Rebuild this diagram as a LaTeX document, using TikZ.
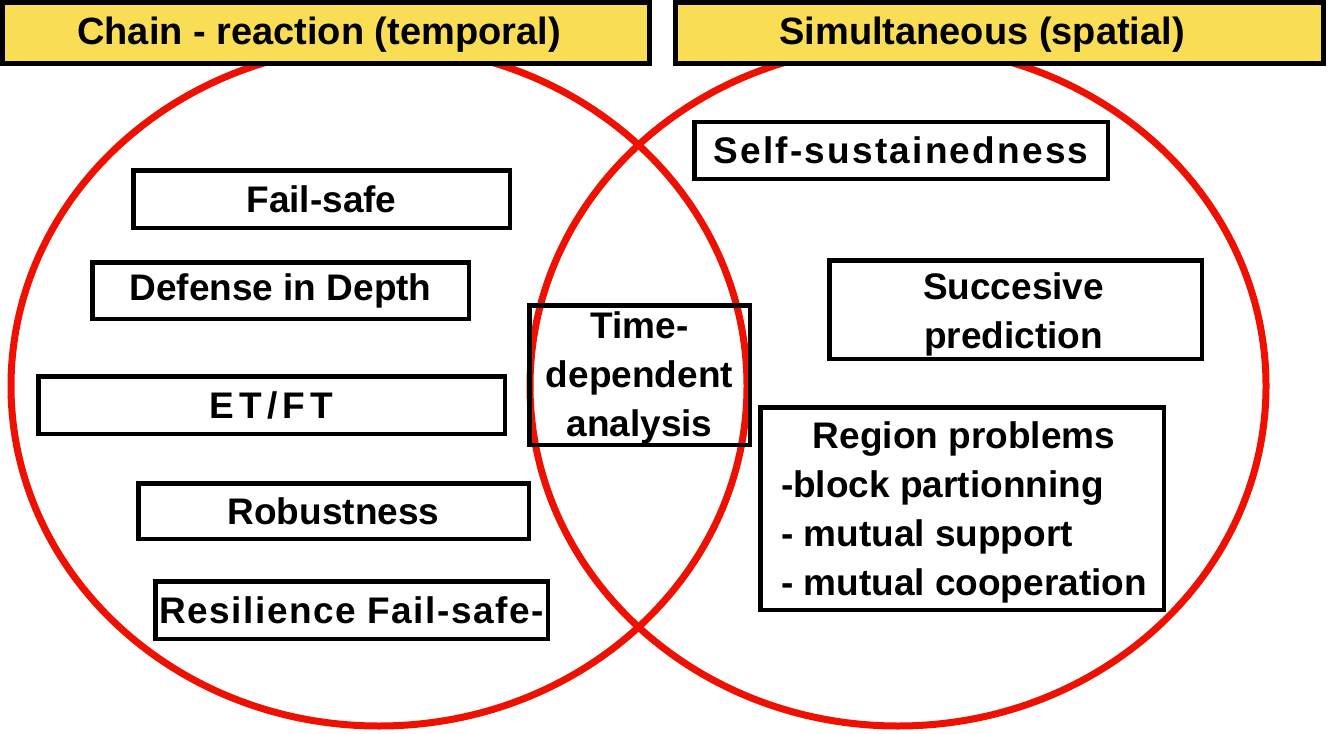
\documentclass[tikz,border=0pt]{standalone}
\usepackage{fontspec}
\setmainfont{Liberation Sans}
\definecolor{vred}{RGB}{238,16,0}
\definecolor{hyellow}{RGB}{249,221,84}
\newcommand{\bodyfont}{\fontsize{37}{49}\selectfont\bfseries}
\tikzset{
  circ/.style={draw=vred, line width=7pt},
  hbox/.style={draw=black, line width=5pt, fill=hyellow, inner sep=0pt},
  htext/.style={font=\fontsize{38}{44}\selectfont\bfseries, inner sep=0pt},
  tbox/.style={draw=black, line width=4.5pt, font=\bodyfont, inner sep=0pt, align=center},
  ttext/.style={font=\bodyfont, inner sep=0pt, align=center},
  spaced/.style={font=\bodyfont\addfontfeatures{LetterSpace=#1}},
}
\begin{document}
\begin{tikzpicture}[x=1pt,y=-1pt]
\useasboundingbox (0,0) rectangle (1332,733);
% circles
\draw[circ] (379,386) ellipse [x radius=368, y radius=340];
\draw[circ] (898,386) ellipse [x radius=368, y radius=340];
% headers
\node[hbox, minimum width=647pt, minimum height=61pt] (h1) at (326,33) {};
\node[htext] (h1t) at (319,35) {Chain - reaction (temporal)};
\node[hbox, minimum width=648pt, minimum height=61pt] (h2) at (999.5,33) {};
\node[htext] (h2t) at (982,35) {Simultaneous (spatial)};
% left boxes
\node[tbox, minimum width=376.5pt, minimum height=57.5pt] (fs) at (321.5,199) {Fail-safe};
\node[tbox, minimum width=376.5pt, minimum height=56.5pt] (did) at (280.5,290.5) {Defense in Depth};
\node[tbox, spaced=14, minimum width=466.5pt, minimum height=57.5pt] (etft) at (271.5,405) {ET/FT};
\node[tbox, minimum width=390.5pt, minimum height=55.5pt] (rob) at (333.5,511) {Robustness};
\node[tbox, spaced=4, minimum width=392.5pt, minimum height=57.5pt] (res) at (351.5,610) {Resilience Fail-safe-};
% middle
\node[tbox, minimum width=220.5pt, minimum height=139.5pt] (tda) at (639.5,375) {};
\node[ttext] (tdat) at (639.5,378) {Time-\\dependent\\analysis};
% right boxes
\node[tbox, spaced=6, minimum width=413.5pt, minimum height=56.5pt] (ss) at (901,150.5) {Self-sustainedness};
\node[tbox, minimum width=372.5pt, minimum height=98.5pt] (sp) at (1015.5,309.5) {};
\node[ttext] (spt) at (1013.5,314) {Succesive\\prediction};
\node[tbox, minimum width=403.5pt, minimum height=202.5pt] (rp) at (962,508.5) {};
\node[ttext] (rpt) at (964,512)
  {\begin{tabular}{@{}l@{}}\multicolumn{1}{@{}c@{}}{Region problems}\\-block partionning\\- mutual support\\- mutual cooperation\end{tabular}};
\end{tikzpicture}
\end{document}
